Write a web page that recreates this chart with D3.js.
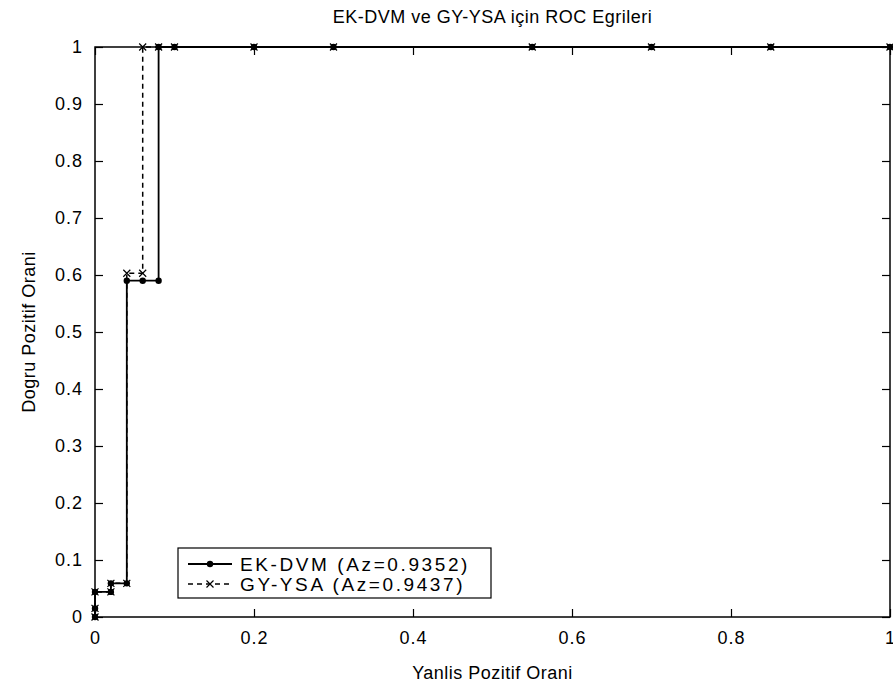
<!DOCTYPE html>
<html>
<head>
<meta charset="utf-8">
<script src="https://cdn.jsdelivr.net/npm/d3@7"></script>
<style>
  body { margin: 0; background: #fff; }
  text { font-family: "Liberation Sans", Arial, sans-serif; fill: #000; }
</style>
</head>
<body>
<svg id="chart" width="893" height="691"></svg>
<script>
// ROC curve data (false positive rate / true positive rate)
var ekFpr = [0, 0, 0, 0.02, 0.02, 0.04, 0.04, 0.06, 0.08, 0.08, 0.1, 0.2, 0.3, 0.55, 0.7, 0.85, 1];
var ekTpr = [0, 0.015, 0.044, 0.044, 0.059, 0.059, 0.59, 0.59, 0.59, 1, 1, 1, 1, 1, 1, 1, 1];
var gyFpr = [0, 0, 0, 0.02, 0.02, 0.04, 0.04, 0.06, 0.06, 0.08, 0.1, 0.2, 0.3, 0.55, 0.7, 0.85, 1];
var gyTpr = [0, 0.015, 0.044, 0.044, 0.059, 0.059, 0.603, 0.603, 1, 1, 1, 1, 1, 1, 1, 1, 1];
var xTicks = [0, 0.2, 0.4, 0.6, 0.8, 1];
var yTicks = [0, 0.1, 0.2, 0.3, 0.4, 0.5, 0.6, 0.7, 0.8, 0.9, 1];
var legendLabels = ["EK-DVM (Az=0.9352)", "GY-YSA (Az=0.9437)"];

var svg = d3.select("#chart");
var plotLeft = 95, plotRight = 890, plotTop = 47, plotBottom = 617;

var x = d3.scaleLinear().domain([0, 1]).range([plotLeft, plotRight]);
var y = d3.scaleLinear().domain([0, 1]).range([plotBottom, plotTop]);

function zip(xs, ys) {
    var out = [];
    for (var i = 0; i < xs.length; i++) {
        out.push([xs[i], ys[i]]);
    }
    return out;
}

// axes, MATLAB style with inward ticks on all four sides
var tickLen = 8;
var fmt = function (d) { return d === 0 ? "0" : d === 1 ? "1" : d3.format(".1f")(d); };

svg.append("g")
    .attr("transform", "translate(0," + plotBottom + ")")
    .call(d3.axisBottom(x).tickValues(xTicks).tickSizeInner(-tickLen).tickSizeOuter(0).tickPadding(14).tickFormat(fmt));
svg.append("g")
    .attr("transform", "translate(0," + plotTop + ")")
    .call(d3.axisTop(x).tickValues(xTicks).tickSizeInner(-tickLen).tickSizeOuter(0).tickFormat(""));
svg.append("g")
    .attr("transform", "translate(" + plotLeft + ",0)")
    .call(d3.axisLeft(y).tickValues(yTicks).tickSizeInner(-tickLen).tickSizeOuter(0).tickPadding(12).tickFormat(fmt));
svg.append("g")
    .attr("transform", "translate(" + plotRight + ",0)")
    .call(d3.axisRight(y).tickValues(yTicks).tickSizeInner(-tickLen).tickSizeOuter(0).tickFormat(""));

svg.selectAll(".tick line").attr("stroke", "#000").attr("stroke-width", 1.2);
svg.selectAll(".domain").remove();
svg.selectAll(".tick text")
    .style("font-size", "18px")
    .style("letter-spacing", "1px")
    .attr("fill", "#000");

svg.append("rect")
    .attr("x", plotLeft).attr("y", plotTop)
    .attr("width", plotRight - plotLeft).attr("height", plotBottom - plotTop)
    .attr("fill", "none").attr("stroke", "#000").attr("stroke-width", 1.5);

// curves
var line = d3.line().x(function (d) { return x(d[0]); }).y(function (d) { return y(d[1]); });

var gyData = zip(gyFpr, gyTpr);
var ekData = zip(ekFpr, ekTpr);

svg.append("path")
    .datum(gyData)
    .attr("d", line)
    .attr("fill", "none").attr("stroke", "#000").attr("stroke-width", 1.5)
    .attr("stroke-dasharray", "5,4");

svg.append("path")
    .datum(ekData)
    .attr("d", line)
    .attr("fill", "none").attr("stroke", "#000").attr("stroke-width", 1.8);

function drawCross(g, cx, cy) {
    var s = 3.5;
    g.append("path")
        .attr("d", "M" + (cx - s) + "," + (cy - s) + "L" + (cx + s) + "," + (cy + s) +
            "M" + (cx - s) + "," + (cy + s) + "L" + (cx + s) + "," + (cy - s))
        .attr("stroke", "#000").attr("stroke-width", 1.2).attr("fill", "none");
}

var markers = svg.append("g");
gyData.forEach(function (d) { drawCross(markers, x(d[0]), y(d[1])); });
markers.selectAll("circle")
    .data(ekData)
    .enter().append("circle")
    .attr("cx", function (d) { return x(d[0]); })
    .attr("cy", function (d) { return y(d[1]); })
    .attr("r", 3.2)
    .attr("fill", "#000");

// legend
var legend = svg.append("g");
legend.append("rect")
    .attr("x", 178).attr("y", 548)
    .attr("width", 313).attr("height", 50)
    .attr("fill", "#fff").attr("stroke", "#000").attr("stroke-width", 1.2);

var rows = [564, 584];
legend.append("line")
    .attr("x1", 188).attr("x2", 232).attr("y1", rows[0]).attr("y2", rows[0])
    .attr("stroke", "#000").attr("stroke-width", 1.8);
legend.append("circle").attr("cx", 210).attr("cy", rows[0]).attr("r", 3.2).attr("fill", "#000");
legend.append("line")
    .attr("x1", 188).attr("x2", 232).attr("y1", rows[1]).attr("y2", rows[1])
    .attr("stroke", "#000").attr("stroke-width", 1.5).attr("stroke-dasharray", "5,4");
drawCross(legend, 210, rows[1]);

legend.selectAll("text.lbl")
    .data(legendLabels)
    .enter().append("text")
    .attr("class", "lbl")
    .attr("x", 240)
    .attr("y", function (d, i) { return rows[i] + 7; })
    .style("font-size", "19px")
    .style("letter-spacing", "2.6px")
    .text(function (d) { return d; });

// title and axis labels
svg.append("text")
    .attr("x", (plotLeft + plotRight) / 2).attr("y", 23)
    .attr("text-anchor", "middle")
    .style("font-size", "18px")
    .style("letter-spacing", "0.5px")
    .text("EK-DVM ve GY-YSA için ROC Egrileri");

svg.append("text")
    .attr("x", (plotLeft + plotRight) / 2).attr("y", 679)
    .attr("text-anchor", "middle")
    .style("font-size", "18px")
    .style("letter-spacing", "0.5px")
    .text("Yanlis Pozitif Orani");

svg.append("text")
    .attr("transform", "translate(35," + ((plotTop + plotBottom) / 2) + ") rotate(-90)")
    .attr("text-anchor", "middle")
    .style("font-size", "18px")
    .style("letter-spacing", "0.5px")
    .text("Dogru Pozitif Orani");
</script>
</body>
</html>
